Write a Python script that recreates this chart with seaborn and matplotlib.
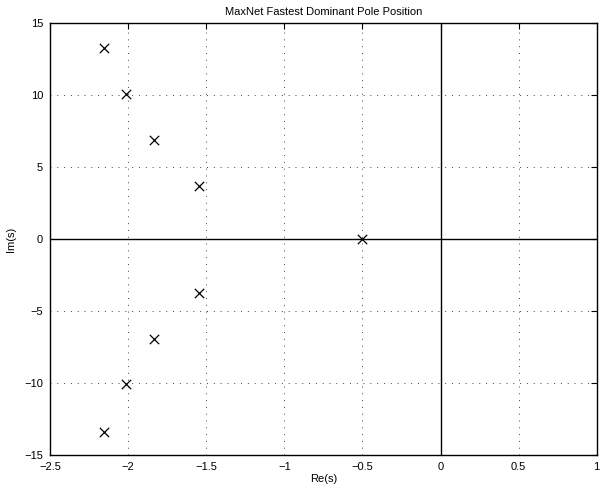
import matplotlib
matplotlib.use("Agg")
import matplotlib.pyplot as plt
import seaborn as sns
import pandas as pd

re_parts = [-2.157, -2.013, -1.834, -1.545, -0.5, -1.545, -1.834, -2.013, -2.157]
im_parts = [13.3, 10.08, 6.93, 3.73, 0.0, -3.72, -6.92, -10.08, -13.4]

x_ticks = [-2.5, -2, -1.5, -1, -0.5, 0, 0.5, 1]
x_labels = ["\u22122.5", "\u22122", "\u22121.5", "\u22121", "\u22120.5", "0", "0.5", "1"]
y_ticks = [-15, -10, -5, 0, 5, 10, 15]
y_labels = ["\u221215", "\u221210", "\u22125", "0", "5", "10", "15"]

sns.set_style("white")
plt.rcParams['font.family'] = ['Liberation Sans', 'DejaVu Sans']
plt.rcParams['text.color'] = 'black'
plt.rcParams['axes.labelcolor'] = 'black'

fig = plt.figure(figsize=(6.0, 4.91), dpi=100)
ax = fig.add_axes([50/600, 1-455.3/491, (596.7-50)/600, (455.3-23.3)/491])

df = pd.DataFrame({"re": re_parts, "im": im_parts})
ax.axhline(0, color="black", lw=1.0, zorder=1)
ax.axvline(0, color="black", lw=1.0, zorder=1)
sns.scatterplot(data=df, x="re", y="im", marker="x", s=45, color="black",
                linewidth=0.9, ax=ax, zorder=3)

ax.set_xlim(-2.5, 1)
ax.set_ylim(-15, 15)
ax.set_xticks(x_ticks)
ax.set_xticklabels(x_labels)
ax.set_yticks(y_ticks)
ax.set_yticklabels(y_labels)
ax.grid(True, linestyle=(0, (1, 6)), color="#444444", linewidth=0.7)
ax.tick_params(direction="in", top=True, right=True, length=4, width=0.8,
               labelsize=8, colors="black", pad=5)
for s in ax.spines.values():
    s.set_color("black")
    s.set_linewidth(1.0)
ax.set_xlabel("Re(s)", fontsize=8, labelpad=1, color="black")
ax.set_ylabel("Im(s)", fontsize=8, labelpad=6, color="black")
ax.set_title("MaxNet Fastest Dominant Pole Position", fontsize=8, pad=6, color="black")

fig.savefig("out.png", dpi=100)
